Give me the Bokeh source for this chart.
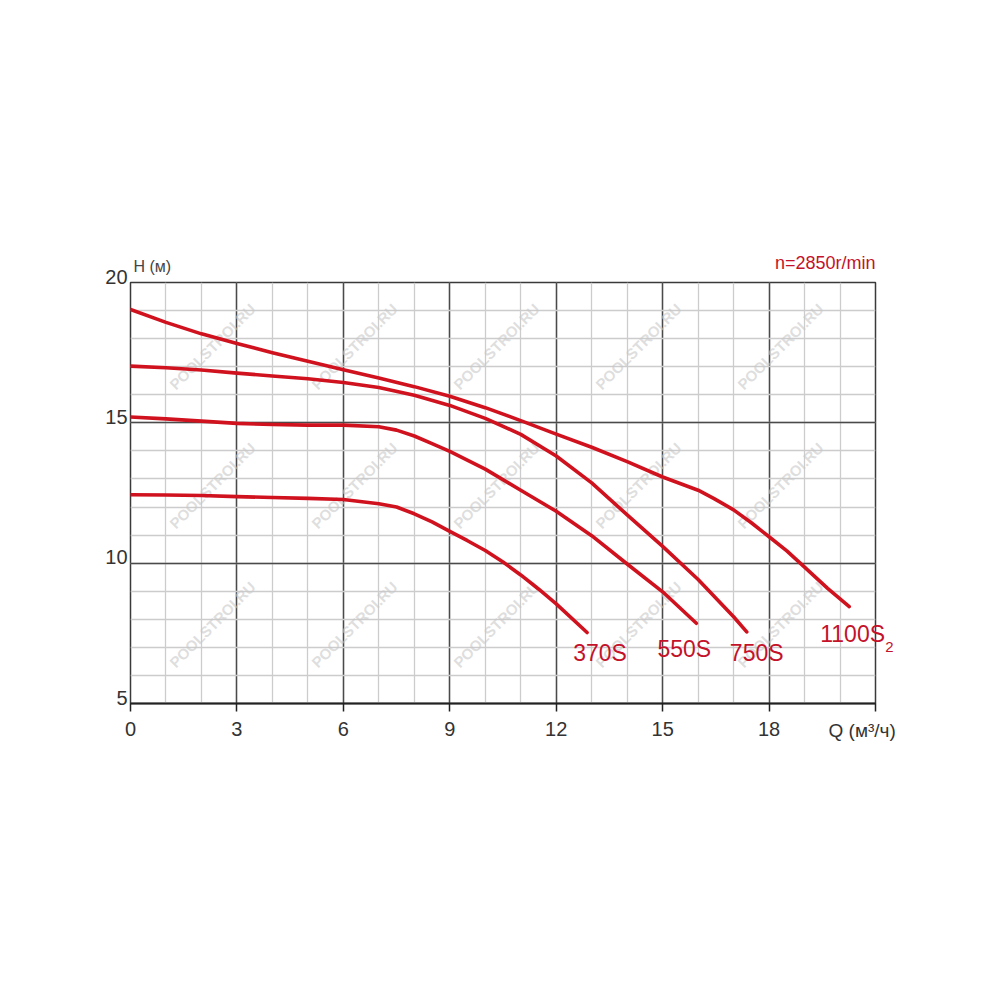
import numpy as np
from bokeh.plotting import figure
from bokeh.models import FixedTicker, Grid, Label, Range1d
from bokeh.embed import file_html
from bokeh.resources import INLINE

# ---------------- data ----------------
q_370 = [0, 1, 2, 3, 4, 5, 6, 7, 7.5, 8, 8.5, 9, 9.5, 10, 10.5, 11, 11.5, 12, 12.87]
h_370 = [12.44, 12.43, 12.41, 12.37, 12.34, 12.31, 12.27, 12.12, 12.0, 11.76, 11.47, 11.13, 10.8, 10.45, 10.04, 9.58, 9.08, 8.55, 7.53]

q_550 = [0, 1, 2, 3, 4, 5, 6, 7, 7.5, 8, 8.5, 9, 10, 11, 12, 13, 14, 15, 15.95]
h_550 = [15.21, 15.14, 15.06, 14.98, 14.94, 14.92, 14.92, 14.86, 14.74, 14.53, 14.26, 13.98, 13.35, 12.6, 11.85, 10.98, 9.97, 8.98, 7.86]

q_750 = [0, 1, 2, 3, 4, 5, 6, 7, 8, 9, 10, 11, 12, 13, 14, 15, 16, 17, 17.37]
h_750 = [17.02, 16.96, 16.88, 16.77, 16.67, 16.57, 16.44, 16.26, 15.98, 15.62, 15.16, 14.59, 13.82, 12.86, 11.72, 10.6, 9.42, 8.09, 7.55]

q_1100 = [0, 1, 2, 3, 4, 5, 6, 7, 8, 9, 10, 11, 12, 13, 14, 15, 16, 16.45, 17, 17.5, 18, 18.5, 19, 19.65, 20.26]
h_1100 = [19.04, 18.58, 18.17, 17.83, 17.5, 17.19, 16.89, 16.6, 16.29, 15.95, 15.54, 15.08, 14.6, 14.13, 13.62, 13.07, 12.6, 12.3, 11.9, 11.44, 10.94, 10.44, 9.86, 9.1, 8.45]

series_names = ["370S", "550S", "750S", "1100S"]
x_major_ticks = [0, 3, 6, 9, 12, 15, 18, 21]
x_minor_ticks = list(range(0, 22))
y_major_ticks = [5, 10, 15, 20]
y_minor_ticks = list(range(5, 21))
y_tick_labels = ["5", "10", "15", "20"]
speed_text = "n=2850r/min"
y_title = "H (м)"
x_title = "Q (м³/ч)"
watermark_text = "POOLSTROI.RU"

# ---------------- styling ----------------
FONT = "Liberation Sans"
RED = "#d0121f"
LABEL_RED = "#c4122a"
TXT = "#333333"

W = H = 980
p = figure(width=W, height=H, output_backend="svg", toolbar_location=None,
           x_range=Range1d(0, 21), y_range=Range1d(5, 20),
           y_axis_location=None,
           min_border_left=130, min_border_right=105,
           min_border_top=282, min_border_bottom=277)
p.background_fill_color = "white"
p.border_fill_color = "white"
p.outline_line_color = "#3a3a3a"
p.outline_line_width = 1.5

p.xgrid.visible = False
p.ygrid.visible = False

xt = FixedTicker(ticks=x_major_ticks, minor_ticks=x_minor_ticks)
yt = FixedTicker(ticks=y_major_ticks, minor_ticks=y_minor_ticks)
for dim, tk in ((0, xt), (1, yt)):
    g = Grid(dimension=dim, ticker=tk,
             grid_line_color="#4a4a4a", grid_line_width=1.5,
             minor_grid_line_color="#cccccc", minor_grid_line_width=1.3,
             level="underlay")
    p.add_layout(g, "center")

ax = p.xaxis[0]
ax.ticker = xt
ax.major_label_overrides = {21: ""}
ax.axis_line_color = "#222222"
ax.axis_line_width = 2
ax.major_tick_line_color = "#222222"
ax.major_tick_line_width = 1.5
ax.major_tick_out = 8
ax.major_tick_in = 0
ax.minor_tick_line_color = None
ax.major_label_standoff = 10
ax.major_label_text_font = FONT
ax.major_label_text_font_size = "20px"
ax.major_label_text_color = TXT

# watermarks inside the plot frame (page pixel -> data)
def px2data(px, py):
    return (px - 130) / 745 * 21, 20 - (py - 282) / 421 * 15

wm_cols = [70, 212, 354, 496, 638, 780, 922]
wm_rows = [68, 207, 346, 485, 624, 763, 902]
for py in wm_rows:
    for px in wm_cols:
        if not (140 < px < 870 and 290 < py < 700):
            continue
        dx, dy = px2data(px, py)
        p.add_layout(Label(x=dx, y=dy, text=watermark_text, angle=np.pi / 4,
                           text_align="center", text_baseline="middle",
                           text_font=FONT, text_font_style="bold",
                           text_font_size="15px", text_color="#c8c8c8",
                           text_alpha=0.6, level="underlay"))

# curves
curves = [(q_370, h_370), (q_550, h_550), (q_750, h_750), (q_1100, h_1100)]
for qs, hs in curves:
    p.line(qs, hs, line_color=RED, line_width=3.6, line_cap="round", line_join="round")

# curve labels, anchored at curve end points
offsets = [(13, -21, "center"), (-12, -26, "center"), (10, -21, "center"), (-29, -27, "left")]
for (qs, hs), name, (ox, oy, al) in zip(curves, series_names, offsets):
    lab = Label(x=qs[-1], y=hs[-1], x_offset=ox, y_offset=oy, text=name,
                text_align=al, text_baseline="alphabetic",
                text_font=FONT, text_font_size="23px", text_color=LABEL_RED)
    if name == "1100S":
        p.add_layout(lab, "right")
    else:
        p.add_layout(lab)
p.add_layout(Label(x=q_1100[-1], y=h_1100[-1], x_offset=36, y_offset=-40, text="2",
                   text_align="left", text_baseline="alphabetic",
                   text_font=FONT, text_font_size="15px", text_color=LABEL_RED), "right")

# y tick labels (in the left side panel so they are not clipped)
for yv, t in zip(y_major_ticks, y_tick_labels):
    p.add_layout(Label(x=0, y=yv, x_offset=-3, y_offset=6, text=t,
                       text_align="right", text_baseline="alphabetic",
                       text_font=FONT, text_font_size="20px", text_color=TXT), "left")

# axis titles and annotation
p.add_layout(Label(x=0, y=20, x_offset=3, y_offset=16, text=y_title,
                   text_align="left", text_baseline="alphabetic",
                   text_font=FONT, text_font_size="16px", text_color="#444444"), "above")
p.add_layout(Label(x=21, y=20, x_offset=0, y_offset=20, text=speed_text,
                   text_align="right", text_baseline="alphabetic",
                   text_font=FONT, text_font_size="18px", text_color=LABEL_RED), "above")
p.add_layout(Label(x=21, y=5, x_offset=-47, y_offset=-27, text=x_title,
                   text_align="left", text_baseline="alphabetic",
                   text_font=FONT, text_font_size="19px", text_color=TXT), "below")

open("out.html", "w").write(file_html(p, INLINE))
